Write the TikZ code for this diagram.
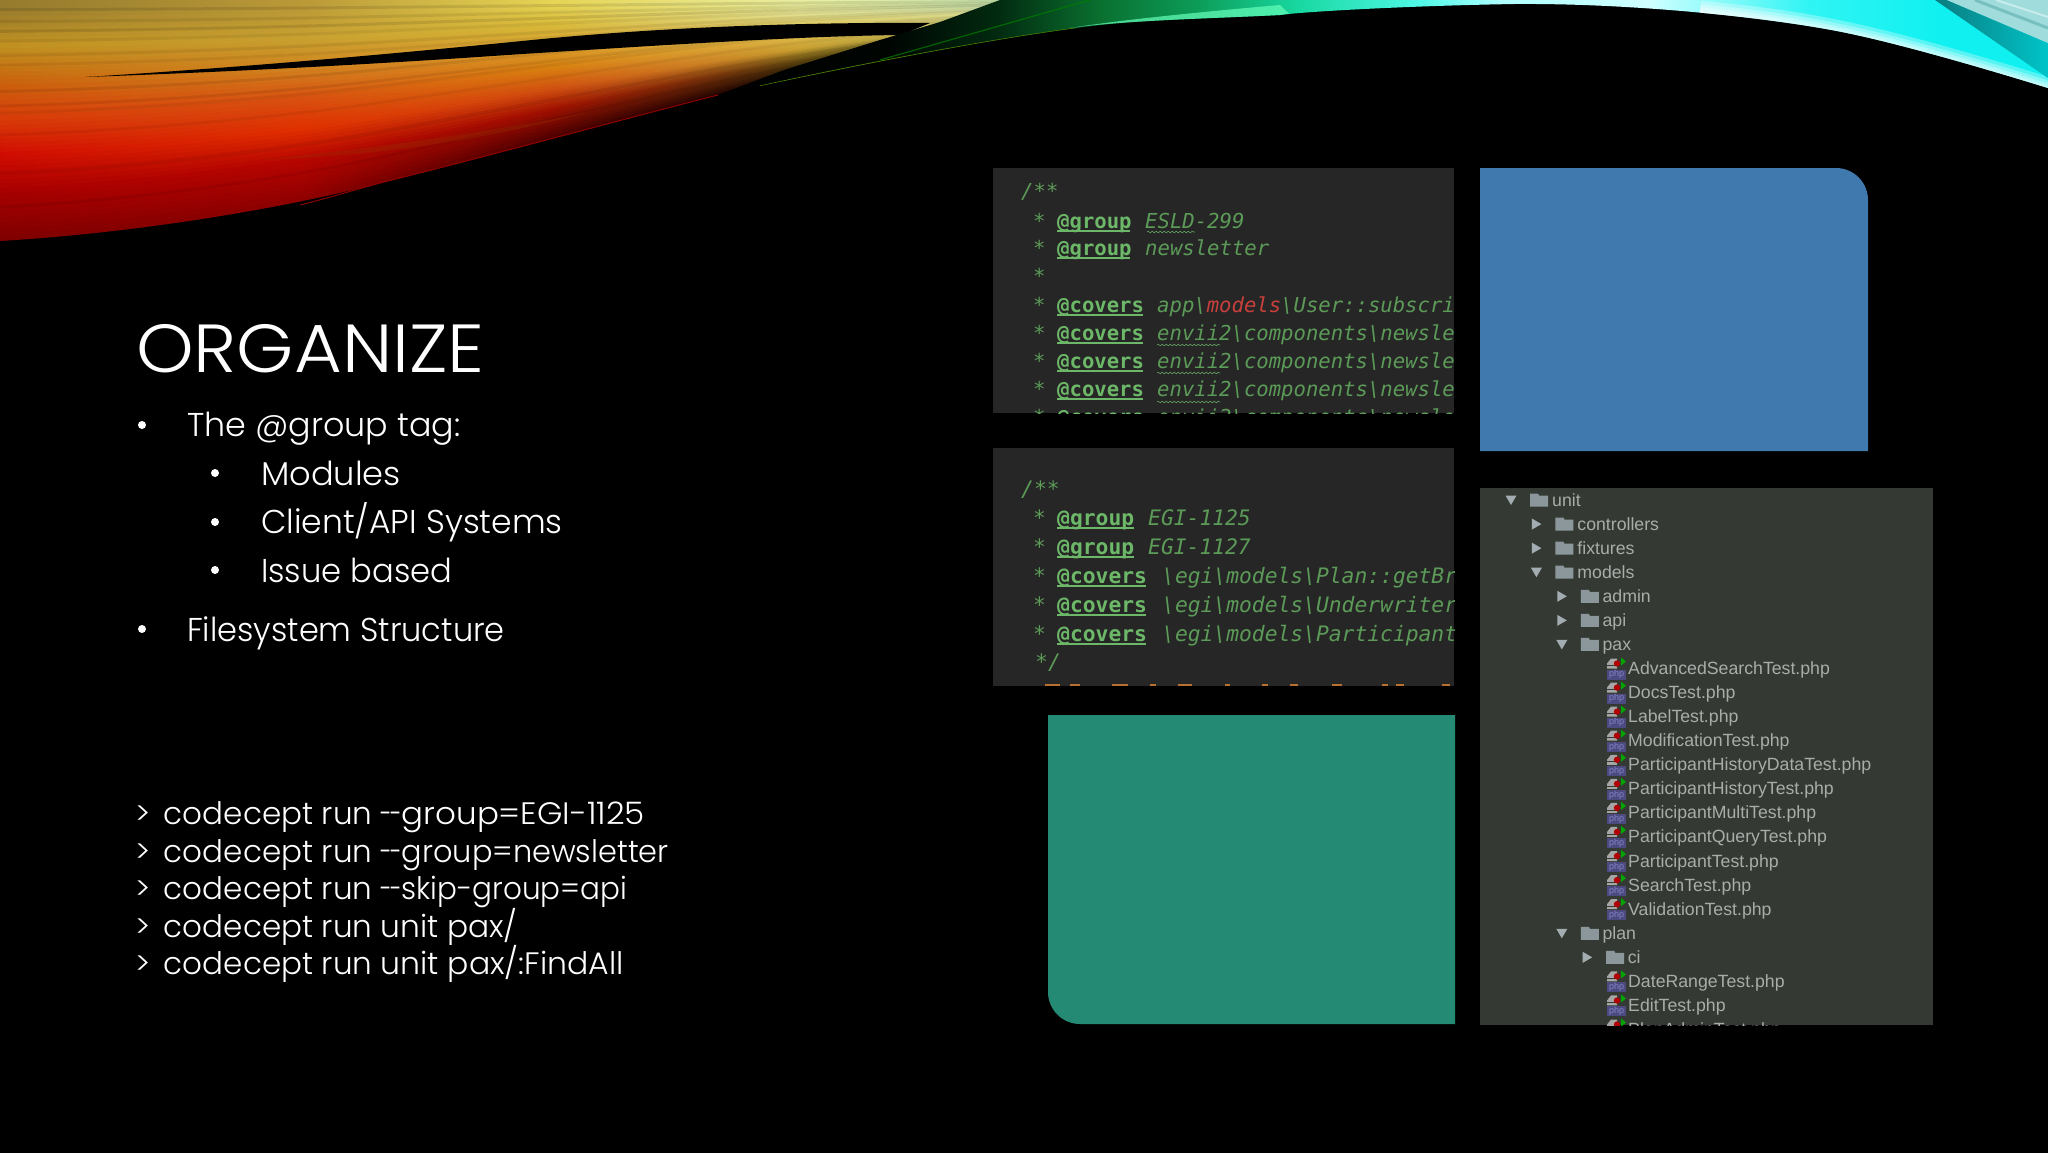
\documentclass[tikz,border=0pt]{standalone}
\usepackage{fontspec}
\usepackage{graphicx}
\usetikzlibrary{decorations.pathmorphing}
\newfontfamily\deckfont{Poppins Light}
\newfontfamily\codefont{DejaVu Sans Mono}
\newfontfamily\treefont{Liberation Sans}
\newcommand\xs[2]{\scalebox{#1}[1]{#2}}
\newcommand\dd{\xs{.72}{-\kern-3pt-}}
% ribbon colour table: rows 1..7 top to bottom, columns A..E left to right
\definecolor{c1A}{HTML}{907830}\definecolor{c1B}{HTML}{B89838}\definecolor{c1C}{HTML}{E8D858}\definecolor{c1D}{HTML}{EAF0A0}\definecolor{c1E}{HTML}{C8ECB8}
\definecolor{c2A}{HTML}{C09020}\definecolor{c2B}{HTML}{C8A030}\definecolor{c2C}{HTML}{D8B838}\definecolor{c2D}{HTML}{E4E090}\definecolor{c2E}{HTML}{D0E8B0}
\definecolor{c3A}{HTML}{C8680F}\definecolor{c3B}{HTML}{D08820}\definecolor{c3C}{HTML}{D8A030}\definecolor{c3D}{HTML}{DCC860}\definecolor{c3E}{HTML}{D8E0A0}
\definecolor{c4A}{HTML}{D83C08}\definecolor{c4B}{HTML}{D85010}\definecolor{c4C}{HTML}{D88010}\definecolor{c4D}{HTML}{DCB848}\definecolor{c4E}{HTML}{D0D890}
\definecolor{c5A}{HTML}{D00C02}\definecolor{c5B}{HTML}{E03000}\definecolor{c5C}{HTML}{D05010}\definecolor{c5D}{HTML}{C8A030}\definecolor{c5E}{HTML}{A0B060}
\definecolor{c6A}{HTML}{A80000}\definecolor{c6B}{HTML}{B80500}\definecolor{c6C}{HTML}{A01000}\definecolor{c6D}{HTML}{604810}\definecolor{c6E}{HTML}{304010}
\definecolor{c7A}{HTML}{800000}\definecolor{c7B}{HTML}{900000}\definecolor{c7C}{HTML}{500000}\definecolor{c7D}{HTML}{100800}\definecolor{c7E}{HTML}{000000}
\definecolor{panelcode}{HTML}{262626}
\definecolor{paneltree}{HTML}{343A33}
\definecolor{boxblue}{HTML}{3F79AE}
\definecolor{boxteal}{HTML}{258A73}
\definecolor{codegreen}{HTML}{5C9A58}
\definecolor{taggreen}{HTML}{6CB868}
\definecolor{codered}{HTML}{C8403C}
\definecolor{treetext}{HTML}{A8ADAA}
\definecolor{foldergray}{HTML}{8C979C}
\definecolor{phppurple}{HTML}{4D4A80}
\definecolor{rgA}{HTML}{000502}\definecolor{rgB}{HTML}{022A10}\definecolor{rgC}{HTML}{0A7030}\definecolor{rgD}{HTML}{0C9C58}\definecolor{rgE}{HTML}{18D8A0}\definecolor{rgF}{HTML}{50F8E8}\definecolor{rgG}{HTML}{B0FFFF}\definecolor{rgH}{HTML}{D0FFFF}\definecolor{rgI}{HTML}{30F4F4}\definecolor{rgJ}{HTML}{10F0F0}
\definecolor{cornerpale}{HTML}{A0DCDC}
\definecolor{cornerline}{HTML}{78C0C0}
\definecolor{cornerlite}{HTML}{C8ECEC}
\definecolor{tealdeep}{HTML}{0A7C80}
\definecolor{tealbright}{HTML}{00C4C8}
\definecolor{codeorange}{HTML}{B87030}
% TikZ maps the middle 25bp..75bp of a shading onto the path's bounding box
\pgfdeclarehorizontalshading{ribright}{100bp}{color(0bp)=(black);color(25bp)=(black);color(31.4bp)=(rgA);
 color(35.5bp)=(rgB);color(39.35bp)=(rgC);color(43bp)=(rgD);
 color(46.8bp)=(rgE);color(51.4bp)=(rgF);color(54.5bp)=(rgG);color(60bp)=(rgH);
 color(66bp)=(rgI);color(71bp)=(rgJ);color(100bp)=(rgJ)}
\tikzset{
 decktext/.style={text=white,anchor=base west,inner sep=0pt,font=\deckfont\fontsize{#1}{#1}\selectfont},
 dotmark/.style={fill=white},
 codetext/.style={text=codegreen,anchor=base west,inner sep=0pt,font=\codefont\itshape\fontsize{#1}{#1}\selectfont},
 tagtext/.style={text=taggreen,anchor=base west,inner sep=0pt,font=\codefont\bfseries\fontsize{#1}{#1}\selectfont},
 tagline/.style={draw=taggreen,line width=1.2pt},
 wavy/.style={draw=gray!75!green,line width=.6pt,decorate,decoration={snake,amplitude=.8pt,segment length=4pt}},
 treetxt/.style={text=treetext,anchor=base west,inner sep=0pt,font=\treefont\fontsize{17.7}{17.7}\selectfont},
 folderpic/.pic={\fill[foldergray] (0,-6.5) -- (8,-6.5) -- (9,-4.5) -- (18,-4.5) -- (18,6.5) -- (0,6.5) -- cycle;},
 arrowdown/.pic={\fill[foldergray!80!white] (-5.5,-4.5) -- (5.5,-4.5) -- (0,5) -- cycle;},
 arrowright/.pic={\fill[foldergray!80!white] (-4.5,-5.5) -- (5,0) -- (-4.5,5.5) -- cycle;},
 phpicon/.pic={
  \fill[gray!70] (0,-5) -- (4,-10) -- (10,-10) -- (10,0) -- (0,0) -- cycle;
  \draw[paneltree,line width=.7pt] (0,-3) -- (19,-3);
  \fill[red!70!black] (10,-5) circle (3.2);
  \fill[green!65!black] (14,-11) -- (19,-7) -- (14,-3) -- cycle;
  \fill[phppurple] (0,1) rectangle (19,11);
  \node[text=gray!60!blue!70!white,inner sep=0pt,font=\treefont\fontsize{9}{9}\selectfont] (php) at (9.5,6) {php};
 },
}
\begin{document}
\begin{tikzpicture}[x=1pt,y=-1pt]
\useasboundingbox (0,0) rectangle (2048,1152);
\fill[black] (-3,-3) rectangle (2051,1155);
% left ribbon: nested fills, each a vertical scale of the lower edge
\foreach \rb/\ra/\tb/\ta [count=\si] in {7/6/1.0/.8,6/5/.8/.65,5/4/.65/.5,4/3/.5/.33,3/2/.33/.2,2/1/.2/.02}{
 \foreach \s in {0,...,7}{
  \pgfmathsetmacro\tv{\tb-(\tb-\ta)*\s/8}
  \pgfmathtruncatemacro\pv{100-100*\s/8}
  \colorlet{mA}{c\rb A!\pv!c\ra A}
  \colorlet{mB}{c\rb B!\pv!c\ra B}
  \colorlet{mC}{c\rb C!\pv!c\ra C}
  \colorlet{mD}{c\rb D!\pv!c\ra D}
  \colorlet{mE}{c\rb E!\pv!c\ra E}
  \pgfdeclarehorizontalshading{rib\si x\s}{100bp}{color(0bp)=(mA);color(25bp)=(mA);color(39.5bp)=(mB);color(51.5bp)=(mC);color(63.5bp)=(mD);color(75bp)=(mE);color(100bp)=(mE)}
  \shade[shading=rib\si x\s,yscale=\tv] (0,0) -- (0,241) .. controls (150,232) and (300,205) .. (392,180) .. controls (500,153) and (620,120) .. (718,95) .. controls (800,75) and (900,55) .. (1040,32) -- (1040,0) -- cycle;
 }
}
% soft striations that follow the ribbon
\foreach \tv/\op in {.04/.1,.09/.08,.13/.1,.17/.06,.23/.07,.27/.06,.38/.08,.44/.07,.47/.06,.56/.05,.72/.06,.86/.06}{
 \draw[black,opacity=\op,line width=3pt,yscale=\tv] (0,241) .. controls (150,232) and (300,205) .. (392,180) .. controls (500,153) and (620,120) .. (718,95) .. controls (800,75) and (900,55) .. (1000,38);
}
% soft orange streak in the red and thin edge glow
\fill[orange!60!red!60!black,opacity=.35] (261,160) .. controls (400,145) and (500,130) .. (590,112) .. controls (500,135) and (400,155) .. (261,160) -- cycle;
\draw[red!55!black,line width=1pt] (300,205) .. controls (340,195) and (360,188) .. (392,180) .. controls (500,153) and (620,120) .. (718,95);
% black streak
\fill[black] (85,77) .. controls (200,70) and (330,60) .. (522,41) .. controls (640,29) and (780,22) .. (930,23) -- (901,35) .. controls (800,36) and (650,46) .. (522,54) .. controls (350,66) and (200,73) .. (85,77) -- cycle;
% right ribbon
\begin{scope}
 \clip (718,95) -- (784,70) -- (880,40) -- (940,22) -- (1000,0) -- (2048,0) -- (2048,88) .. controls (1980,67) and (1900,44) .. (1847,33) .. controls (1780,19) and (1640,3) .. (1514,4) .. controls (1400,6) and (1300,12) .. (1280,15) .. controls (1200,19) and (1130,20) .. (1077,28) .. controls (1000,38) and (880,60) .. (718,95) -- cycle;
 \shade[shading=ribright] (718,0) rectangle (2048,100);
 \fill[green!45!cyan!60!white,opacity=.7] (1070,28) .. controls (1120,20) and (1200,12) .. (1280,5) -- (1290,15) .. controls (1200,19) and (1130,20) .. (1070,28) -- cycle;
 \draw[green!40!yellow!50!black,line width=1pt] (760,86) .. controls (880,60) and (1000,38) .. (1077,28);
 \draw[green!50!black,opacity=.7,line width=1.2pt] (880,60) -- (1090,0);
 \foreach \w in {22,15,9,4}{\draw[white,opacity=.3,line width=\w pt] (1700,12) .. controls (1770,18) and (1810,25) .. (1847,33) .. controls (1900,44) and (1980,67) .. (2060,92);}
 % teal stripe and pale corner
 \shade[left color=tealdeep,right color=tealbright] (1935,0) -- (1947,0) -- (2048,43) -- (2048,78) -- cycle;
 \fill[cornerpale] (1947,0) -- (2048,0) -- (2048,43) -- cycle;
 \draw[cornerline,line width=3pt] (1975,0) -- (2048,28);
 \draw[cornerlite,line width=2pt] (1996,0) -- (2048,17);
\end{scope}
% title and bullets
\node[decktext=68] (title) at (136,372) {\xs{1.078}{ORGANIZE}};
\fill[dotmark] (142,425) circle (4);
\node[decktext=33] (b1) at (187,436) {\xs{1.01}{The @group tag:}};
\fill[dotmark] (215,473) circle (4);
\node[decktext=33] (b2) at (261,485) {\xs{1.02}{Modules}};
\fill[dotmark] (215,522) circle (4);
\node[decktext=33] (b3) at (261,533) {Client/API Systems};
\fill[dotmark] (215,570) circle (4);
\node[decktext=33] (b4) at (261,582) {\xs{.975}{Issue based}};
\fill[dotmark] (142,629) circle (4);
\node[decktext=33] (b5) at (187,641) {\xs{.97}{Filesystem Structure}};
\node[decktext=31] (c1) at (135,824) {>\hspace{5pt} codecept run \dd\xs{1.05}{group=EGI-1125}};
\node[decktext=31] (c2) at (135,862) {>\hspace{5pt} codecept run \dd\xs{.98}{group=newsletter}};
\node[decktext=31] (c3) at (135,899) {>\hspace{5pt} codecept run \dd\xs{.95}{skip-group=api}};
\node[decktext=31] (c4) at (135,937) {>\hspace{5pt} codecept run \xs{1.01}{unit pax/}};
\node[decktext=31] (c5) at (135,974) {>\hspace{5pt} codecept run \xs{1.017}{unit pax/:FindAll}};
% flat boxes
\fill[boxblue] (1480,168) [rounded corners=32pt] -- (1868,168) [sharp corners] -- (1868,451) -- (1480,451) -- cycle;
\fill[boxteal] (1455,715) -- (1048,715) [rounded corners=32pt] -- (1048,1024) [sharp corners] -- (1455,1024) -- cycle;
% code panel A
\fill[panelcode] (993,168) rectangle (1454,413);
\begin{scope}
 \clip (993,168) rectangle (1454,413);
 \node[codetext=20.6] (a0) at (1021,198) {/**};
 \foreach \yy/\tag/\nm in {228/group/a1,255/group/a2,312/covers/a4,340/covers/a5,368/covers/a6,396/covers/a7,424/covers/a8}{
  \node[tagtext=20.6] (\nm) at (1057,\yy) {@\tag};
 }
 \foreach \yy/\nm in {228/s1,255/s2,283/s3,312/s4,340/s5,368/s6,396/s7,424/s8}{
  \node[codetext=20.6] (\nm) at (1033,\yy) {*};
 }
 \draw[tagline] (1057,231) -- (1130,231);
 \draw[tagline] (1057,258) -- (1130,258);
 \foreach \yy in {315,343,371,399}{\draw[tagline] (1057,\yy) -- (1143,\yy);}
 \node[codetext=20.6] (t1) at (1145,228) {ESLD-299};
 \node[codetext=20.6] (t2) at (1145,255) {newsletter};
 \node[codetext=20.6] (t4) at (1157,312) {app\textbackslash{}\textcolor{codered}{models}\textbackslash{}User::subscrib};
 \node[codetext=20.6] (t5) at (1157,340) {envii2\textbackslash{}components\textbackslash{}newslet};
 \node[codetext=20.6] (t6) at (1157,368) {envii2\textbackslash{}components\textbackslash{}newslet};
 \node[codetext=20.6] (t7) at (1157,396) {envii2\textbackslash{}components\textbackslash{}newslet};
 \node[codetext=20.6] (t8) at (1157,424) {envii2\textbackslash{}components\textbackslash{}newslet};
 \draw[wavy] (1147,232) -- (1195,232);
 \foreach \yy in {345,373,402}{\draw[wavy] (1157,\yy) -- (1220,\yy);}
\end{scope}
% code panel B
\fill[panelcode] (993,448) rectangle (1454,686);
\begin{scope}
 \clip (993,448) rectangle (1454,686);
 \node[codetext=21.3] (b0) at (1021,496) {/**};
 \foreach \yy/\tag/\nm in {525/group/p1,554/group/p2,583/covers/p3,612/covers/p4,641/covers/p5}{
  \node[tagtext=21.3] (\nm) at (1057,\yy) {@\tag};
  \node[codetext=21.3] (q\nm) at (1033,\yy) {*};
 }
 \draw[tagline] (1057,528) -- (1134,528);
 \draw[tagline] (1057,557) -- (1134,557);
 \foreach \yy in {586,615,644}{\draw[tagline] (1057,\yy) -- (1146,\yy);}
 \node[codetext=21.3] (u1) at (1148,525) {EGI-1125};
 \node[codetext=21.3] (u2) at (1148,554) {EGI-1127};
 \node[codetext=21.3] (u3) at (1162,583) {\textbackslash{}egi\textbackslash{}models\textbackslash{}Plan::getBro};
 \node[codetext=21.3] (u4) at (1162,612) {\textbackslash{}egi\textbackslash{}models\textbackslash{}Underwriter};
 \node[codetext=21.3] (u5) at (1162,641) {\textbackslash{}egi\textbackslash{}models\textbackslash{}Participant};
 \node[codetext=21.3] (u6) at (1035,669) {*/};
 \foreach \xa/\xb in {1045/1060,1070/1080,1112/1128,1150/1156,1178/1192,1225/1230,1262/1268,1290/1298,1332/1342,1382/1388,1396/1404,1442/1450}{
  \fill[codeorange] (\xa,683.5) rectangle (\xb,686);
 }
\end{scope}
% file tree
\fill[paneltree] (1480,488) rectangle (1933,1025);
\begin{scope}
 \clip (1480,488) rectangle (1933,1025);
 \foreach \k/\l/\nm in {0/0/unit,3/1/models,6/2/pax,18/2/plan}{
  \pgfmathsetmacro\ry{500+24.07*\k}
  \pic at ({1511+25.4*\l},\ry) {arrowdown};
  \pic at ({1530+25.4*\l},\ry) {folderpic};
  \node[treetxt] (tree\k) at ({1552+25.2*\l},\ry+6) {\nm};
 }
 \foreach \k/\l/\nm in {1/1/controllers,2/1/fixtures,4/2/admin,5/2/api,19/3/ci}{
  \pgfmathsetmacro\ry{500+24.07*\k}
  \pic at ({1511+25.4*\l},\ry) {arrowright};
  \pic at ({1530+25.4*\l},\ry) {folderpic};
  \node[treetxt] (tree\k) at ({1552+25.2*\l},\ry+6) {\nm};
 }
 \foreach \k/\nm in {7/AdvancedSearchTest,8/DocsTest,9/LabelTest,10/ModificationTest,11/ParticipantHistoryDataTest,12/ParticipantHistoryTest,13/ParticipantMultiTest,14/ParticipantQueryTest,15/ParticipantTest,16/SearchTest,17/ValidationTest,20/DateRangeTest,21/EditTest,22/PlanAdminTest}{
  \pgfmathsetmacro\ry{500+24.07*\k}
  \pic at (1607,\ry) {phpicon};
  \node[treetxt] (tree\k) at (1628,\ry+6) {\nm.php};
 }
\end{scope}
\end{tikzpicture}
\end{document}
